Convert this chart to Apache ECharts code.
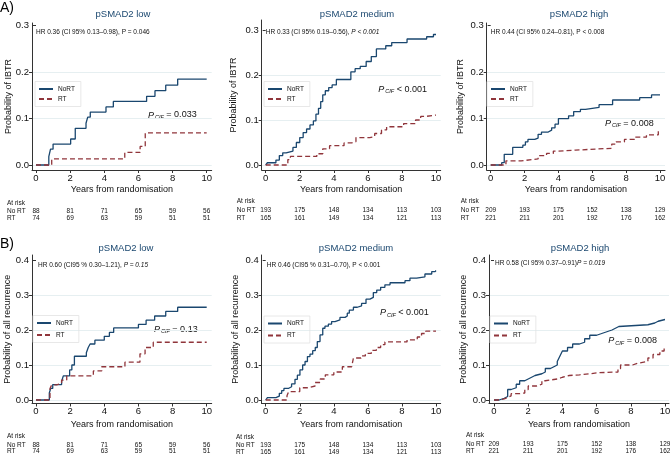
<!DOCTYPE html>
<html><head><meta charset="utf-8">
<script src="https://cdn.jsdelivr.net/npm/echarts@6/dist/echarts.min.js"></script>
<style>html,body{margin:0;padding:0;background:#fff}#c{width:670px;height:456px}</style>
</head><body><div id="c"></div><script>
// ---------- data ----------
const years = [0, 2, 4, 6, 8, 10];
const yTicksIBTR = [0, 0.1, 0.2, 0.3];
const yTicksAll = [0, 0.1, 0.2, 0.3, 0.4];
const groupNames = ['NoRT', 'RT'];
const panelTitles = ['pSMAD2 low', 'pSMAD2 medium', 'pSMAD2 high'];
const yTitles = ['Probability of IBTR', 'Probability of all recurrence'];
const xTitle = 'Years from randomisation';

// cumulative incidence [years, probability]
const ibtrLowNoRT = [[0,0],[0.75,0.018],[0.85,0.034],[1.0,0.045],[2.03,0.056],[2.3,0.079],[2.93,0.09],[3.03,0.103],[3.18,0.114],[4.1,0.125],[4.53,0.137],[6.48,0.148],[6.97,0.16],[7.6,0.172],[8.3,0.185],[10,0.185]];
const ibtrLowRT = [[0,0],[0.92,0.013],[5.2,0.027],[6.1,0.04],[6.4,0.069],[10,0.069]];
const ibtrMedNoRT = [[0,0],[0.1,0.005],[0.6,0.011],[0.8,0.021],[1.0,0.027],[1.2,0.031],[1.6,0.039],[1.8,0.05],[2.0,0.061],[2.2,0.072],[2.4,0.08],[2.6,0.089],[2.8,0.098],[2.95,0.113],[3.1,0.126],[3.23,0.141],[3.35,0.156],[3.5,0.165],[3.7,0.172],[3.9,0.178],[4.15,0.19],[5.0,0.207],[5.25,0.214],[5.55,0.219],[5.9,0.23],[6.2,0.241],[6.5,0.258],[7.05,0.265],[7.4,0.272],[8.3,0.28],[9.45,0.285],[9.85,0.29],[10,0.29]];
const ibtrMedRT = [[0,0],[1.3,0.012],[1.45,0.019],[3.0,0.025],[3.35,0.036],[3.75,0.043],[4.6,0.049],[5.05,0.052],[5.3,0.061],[6.1,0.063],[6.4,0.07],[6.8,0.078],[7.1,0.085],[8.1,0.092],[8.8,0.1],[9.1,0.108],[9.4,0.111],[10,0.111]];
const ibtrHighNoRT = [[0,0],[0.65,0.005],[0.8,0.023],[1.3,0.038],[1.9,0.043],[2.05,0.05],[2.2,0.055],[2.6,0.058],[2.8,0.066],[3.0,0.071],[3.4,0.075],[3.6,0.08],[3.8,0.088],[4.0,0.1],[4.6,0.106],[4.9,0.115],[5.3,0.12],[5.6,0.124],[6.4,0.13],[7.2,0.14],[8.8,0.145],[9.5,0.151],[10,0.151]];
const ibtrHighRT = [[0,0],[0.9,0.009],[1.8,0.013],[2.8,0.02],[3.3,0.025],[3.7,0.03],[4.0,0.032],[5.0,0.036],[7.15,0.045],[7.4,0.05],[7.9,0.055],[8.5,0.06],[9.2,0.065],[9.9,0.073],[10,0.073]];
const allLowNoRT = [[0,0],[0.78,0.02],[0.86,0.033],[0.98,0.044],[1.5,0.053],[1.6,0.069],[1.97,0.086],[2.1,0.1],[2.25,0.125],[2.95,0.135],[3.06,0.15],[3.17,0.16],[3.45,0.171],[4.0,0.182],[4.3,0.193],[4.55,0.206],[6.0,0.216],[6.45,0.228],[6.95,0.24],[7.6,0.253],[8.3,0.265],[10,0.265]];
const allLowRT = [[0,0],[0.82,0.033],[0.92,0.043],[1.2,0.047],[1.5,0.057],[1.8,0.069],[3.36,0.083],[3.85,0.095],[5.21,0.108],[6.09,0.132],[6.39,0.15],[6.87,0.165],[10,0.165]];
const allMedNoRT = [[0,0],[0.1,0.007],[0.6,0.011],[0.8,0.019],[0.94,0.027],[1.07,0.033],[1.33,0.038],[1.52,0.046],[1.72,0.059],[1.86,0.071],[2.01,0.086],[2.17,0.1],[2.31,0.11],[2.45,0.124],[2.6,0.131],[2.76,0.141],[2.91,0.15],[3.03,0.167],[3.19,0.186],[3.35,0.205],[3.48,0.211],[3.68,0.217],[3.87,0.224],[4.07,0.229],[4.36,0.236],[4.66,0.24],[4.79,0.248],[4.91,0.257],[5.15,0.265],[5.38,0.269],[5.63,0.276],[5.89,0.288],[6.12,0.293],[6.32,0.307],[6.52,0.314],[6.75,0.322],[7.0,0.329],[7.3,0.335],[8.18,0.341],[8.47,0.348],[8.86,0.352],[9.35,0.36],[9.75,0.367],[9.95,0.37],[10,0.37]];
const allMedRT = [[0,0],[1.25,0.012],[1.35,0.024],[2.0,0.035],[2.5,0.04],[2.9,0.05],[3.2,0.06],[3.5,0.072],[4.0,0.08],[4.5,0.095],[5.05,0.1],[5.15,0.12],[5.6,0.126],[5.85,0.133],[6.2,0.142],[6.5,0.15],[6.75,0.158],[7.0,0.166],[8.3,0.172],[8.9,0.18],[9.15,0.19],[9.4,0.197],[10,0.198]];
const allHighNoRT = [[0,0],[0.3,0.005],[0.6,0.01],[0.8,0.03],[1.0,0.035],[1.3,0.045],[1.5,0.055],[1.8,0.06],[2.0,0.065],[2.2,0.07],[2.4,0.075],[2.8,0.08],[3.0,0.09],[3.3,0.095],[3.5,0.1],[3.7,0.11],[3.8,0.12],[3.9,0.13],[4.0,0.14],[4.3,0.15],[4.6,0.16],[5.0,0.165],[5.3,0.175],[5.6,0.185],[6.0,0.19],[6.3,0.195],[6.6,0.2],[6.9,0.205],[7.1,0.21],[7.3,0.215],[9.0,0.22],[9.4,0.225],[9.6,0.23],[10,0.23]];
const allHighRT = [[0,0],[0.2,0.003],[0.6,0.007],[0.8,0.012],[1.0,0.018],[1.5,0.02],[1.8,0.03],[2.0,0.04],[2.5,0.045],[2.8,0.055],[3.0,0.06],[3.7,0.065],[4.0,0.07],[4.4,0.072],[5.0,0.075],[5.6,0.078],[6.1,0.08],[7.25,0.09],[7.4,0.1],[8.1,0.105],[8.4,0.11],[9.0,0.12],[9.3,0.13],[9.7,0.14],[9.95,0.148],[10,0.148]];

// numbers at risk at years 0,2,4,6,8,10
const riskLowNoRT = [88, 81, 71, 65, 59, 56];
const riskLowRT = [74, 69, 63, 59, 51, 51];
const riskMedNoRT = [193, 175, 148, 134, 113, 103];
const riskMedRT = [165, 161, 149, 134, 121, 113];
const riskHighNoRT = [209, 193, 175, 152, 138, 129];
const riskHighRT = [221, 211, 201, 192, 176, 162];

// annotation texts: [plain part, italic part]
const hrTexts = [
  ['HR 0.36 (CI 95% 0.13\u20130.98), P = 0.046', ''],
  ['HR 0.33 (CI 95% 0.19\u20130.56), ', 'P < 0.001'],
  ['HR 0.44 (CI 95% 0.24\u20130.81), P < 0.008', ''],
  ['HR 0.60 (CI95 % 0.30\u20131.21), ', 'P = 0.15'],
  ['HR 0.46 (CI95 % 0.31\u20130.70), P < 0.001', ''],
  ['HR 0.58 (CI 95% 0.37\u20130.91)', 'P = 0.019']
];
const pCifTexts = ['= 0.033', '< 0.001', '= 0.008', '= 0.13', '< 0.001', '= 0.008'];

// ---------- layout / style ----------
const FONT = '"Liberation Sans", Arial, Helvetica, sans-serif';
const NAVY = '#1a476f', MAROON = '#90353b', GRIDC = '#e6eff1', AXISC = '#333333';
const layouts = [
  {x0:36, x10:206.7, yZero:165, yTop:25.7, aL:32, aR:211.7, aT:23, aB:170, tX:123, tY:14, yGap:19, xGap:15.5, legL:35, legT:81.5, legGap:3, hrX:36, hrY:32, pX:148, pY:115, rX:7, rY:[203,211,218.3]},
  {x0:265.7, x10:436, yZero:165, yTop:30, aL:261.7, aR:440.7, aT:20, aB:170, tX:357, tY:14, yGap:24, xGap:15.5, legL:264, legT:81.5, legGap:3, hrX:265.7, hrY:32.3, pX:378.3, pY:89.3, rX:236.7, rY:[201.7,210.7,218.3]},
  {x0:490.7, x10:660, yZero:165, yTop:25.7, aL:486.7, aR:665, aT:23, aB:170, tX:579, tY:14, yGap:22, xGap:15.5, legL:487, legT:81.5, legGap:3, hrX:490.7, hrY:32.3, pX:605, pY:123.3, rX:460.7, rY:[201.7,210.7,218.3]},
  {x0:36, x10:206.7, yZero:400, yTop:260, aL:32, aR:211.7, aT:255, aB:403.5, tX:126, tY:248, yGap:20, xGap:16.5, legL:33, legT:315.5, legGap:5, hrX:38, hrY:265, pX:154, pY:329.3, rX:7, rY:[436.7,445,451.7]},
  {x0:265.7, x10:436, yZero:400, yTop:260, aL:261.7, aR:440.7, aT:255, aB:403.5, tX:356, tY:248, yGap:21.5, xGap:16.5, legL:264, legT:316, legGap:5, hrX:266.7, hrY:265, pX:380, pY:312.7, rX:236, rY:[437.3,445.3,452.3]},
  {x0:494, x10:665, yZero:400, yTop:260, aL:489, aR:669, aT:255, aB:403.5, tX:580, tY:248, yGap:20.5, xGap:16.5, legL:490, legT:316, legGap:5, hrX:495, hrY:263, pX:608.3, pY:340.7, rX:466, rY:[435,444,451.7]}
];

const panels = [
  {title: panelTitles[0], yTitle: yTitles[0], ticks: yTicksIBTR, noRT: ibtrLowNoRT, rt: ibtrLowRT, riskNo: riskLowNoRT, riskRt: riskLowRT},
  {title: panelTitles[1], yTitle: yTitles[0], ticks: yTicksIBTR, noRT: ibtrMedNoRT, rt: ibtrMedRT, riskNo: riskMedNoRT, riskRt: riskMedRT},
  {title: panelTitles[2], yTitle: yTitles[0], ticks: yTicksIBTR, noRT: ibtrHighNoRT, rt: ibtrHighRT, riskNo: riskHighNoRT, riskRt: riskHighRT},
  {title: panelTitles[0], yTitle: yTitles[1], ticks: yTicksAll, noRT: allLowNoRT, rt: allLowRT, riskNo: riskLowNoRT, riskRt: riskLowRT},
  {title: panelTitles[1], yTitle: yTitles[1], ticks: yTicksAll, noRT: allMedNoRT, rt: allMedRT, riskNo: riskMedNoRT, riskRt: riskMedRT},
  {title: panelTitles[2], yTitle: yTitles[1], ticks: yTicksAll, noRT: allHighNoRT, rt: allHighRT, riskNo: riskHighNoRT, riskRt: riskHighRT}
];

const grid = [], xAxis = [], yAxis = [], series = [], legend = [], graphic = [];

graphic.push({type:'text', x:0, y:8, style:{text:'A)', font:'14px ' + FONT, fill:'#000', verticalAlign:'middle'}});
graphic.push({type:'text', x:0, y:244, style:{text:'B)', font:'14px ' + FONT, fill:'#000', verticalAlign:'middle'}});

panels.forEach((p, i) => {
  const L = layouts[i];
  const kx = (L.x10 - L.x0) / 10;
  const tickMax = p.ticks[p.ticks.length - 1];
  const ky = (L.yZero - L.yTop) / tickMax;
  const xMin = (L.aL - L.x0) / kx, xMax = 10 + (L.aR - L.x10) / kx;
  const yMin = -(L.aB - L.yZero) / ky, yMax = tickMax + (L.yTop - L.aT) / ky;
  const gridTicks = p.ticks.slice(0, -1);

  grid.push({left: L.aL, top: L.aT, width: L.aR - L.aL, height: L.aB - L.aT, outerBoundsMode: 'none', containLabel: false});

  const xi = xAxis.length;
  xAxis.push({
    gridIndex: i, type: 'value', min: xMin, max: xMax, position: 'bottom',
    axisLine: {show: true, onZero: false, lineStyle: {color: AXISC, width: 1}},
    axisTick: {show: true, customValues: years, length: 3, inside: false, lineStyle: {color: AXISC}},
    axisLabel: {customValues: years, fontSize: 9.5, fontFamily: FONT, color: '#111', margin: 3},
    splitLine: {show: false},
    name: xTitle, nameLocation: 'middle', nameGap: L.xGap, nameMoveOverlap: false,
    nameTextStyle: {fontSize: 9, fontFamily: FONT, color: '#111'}
  });
  [p.riskNo, p.riskRt].forEach((arr, r) => {
    xAxis.push({
      gridIndex: i, type: 'value', min: xMin, max: xMax, position: 'bottom', offset: L.rY[r + 1] - L.aB,
      axisLine: {show: false}, axisTick: {show: false}, splitLine: {show: false},
      axisLabel: {customValues: years, fontSize: 6.5, fontFamily: FONT, color: '#111', margin: 0, verticalAlign: 'middle',
        formatter: v => String(arr[Math.round(v / 2)])}
    });
  });

  const yi = yAxis.length;
  // main y axis: interior gridlines + ticks
  yAxis.push({
    gridIndex: i, type: 'value', min: yMin, max: yMax, position: 'left', offset: 0,
    axisLine: {show: true, onZero: false, lineStyle: {color: AXISC, width: 1}},
    axisTick: {show: true, customValues: gridTicks, length: 3, lineStyle: {color: AXISC}},
    axisLabel: {customValues: p.ticks, fontSize: 9.5, fontFamily: FONT, color: '#111', margin: 3, formatter: v => v.toFixed(1)},
    splitLine: {show: true, lineStyle: {color: GRIDC, width: 1}},
    name: p.yTitle, nameLocation: 'middle', nameGap: L.yGap, nameRotate: 90, nameMoveOverlap: false,
    nameTextStyle: {fontSize: 9, fontFamily: FONT, color: '#111'}
  });
  // companion axis: only the top tick mark
  yAxis.push({
    gridIndex: i, type: 'value', min: yMin, max: yMax, position: 'left', offset: 0,
    axisLine: {show: false}, axisLabel: {show: false}, splitLine: {show: false},
    axisTick: {show: true, customValues: [tickMax], length: 3, lineStyle: {color: AXISC}}
  });

  series.push({type: 'line', name: groupNames[0], xAxisIndex: xi, yAxisIndex: yi, data: p.noRT, step: 'end',
    symbol: 'none', showSymbol: false, lineStyle: {color: NAVY, width: 1.3}, itemStyle: {color: NAVY}, silent: true, z: 3});
  series.push({type: 'line', name: groupNames[1], xAxisIndex: xi, yAxisIndex: yi, data: p.rt, step: 'end',
    symbol: 'none', showSymbol: false, lineStyle: {color: MAROON, width: 1.3, type: [5, 3]}, itemStyle: {color: MAROON}, silent: true, z: 4});

  legend.push({
    data: groupNames, left: L.legL, top: L.legT, orient: 'vertical', itemWidth: 14, itemHeight: 7, itemGap: L.legGap,
    padding: [4, 6, 4, 3], borderColor: '#e2e2e2', borderWidth: 0.8, selectedMode: false,
    itemStyle: {opacity: 0, borderWidth: 0},
    textStyle: {fontSize: 6.5, fontFamily: FONT, color: '#111'}
  });

  graphic.push({type:'text', x: L.tX, y: L.tY, style:{text: p.title, font: '9.5px ' + FONT, fill: NAVY, align:'center', verticalAlign:'middle'}});
  graphic.push({type:'text', x: L.hrX, y: L.hrY, style:{
    text: '{a|' + hrTexts[i][0] + '}' + (hrTexts[i][1] ? '{b|' + hrTexts[i][1] + '}' : ''),
    verticalAlign:'middle',
    rich: {a:{fontSize: 6.5, fontFamily: FONT, fill:'#111'}, b:{fontSize: 6.5, fontFamily: FONT, fontStyle:'italic', fill:'#111'}}}});
  graphic.push({type:'text', x: L.pX, y: L.pY, style:{
    text: '{p|P}{s|CIF}{t| ' + pCifTexts[i] + '}', verticalAlign:'middle',
    rich: {p:{fontSize: 9, fontFamily: FONT, fontStyle:'italic', fill:'#111', padding:[0,1,0,0]},
           s:{fontSize: 5.5, fontFamily: FONT, fontStyle:'italic', fill:'#111', padding:[5,0,0,0]},
           t:{fontSize: 9, fontFamily: FONT, fill:'#111'}}}});
  ['At risk', 'No RT', 'RT'].forEach((t, r) => {
    graphic.push({type:'text', x: L.rX, y: L.rY[r], style:{text: t, font: '6.5px ' + FONT, fill:'#111', verticalAlign:'middle'}});
  });
});

const chart = echarts.init(document.getElementById('c'), null, {renderer: 'canvas'});
chart.setOption({animation: false, backgroundColor: '#fff', grid, xAxis, yAxis, series, legend, graphic});
</script></body></html>
